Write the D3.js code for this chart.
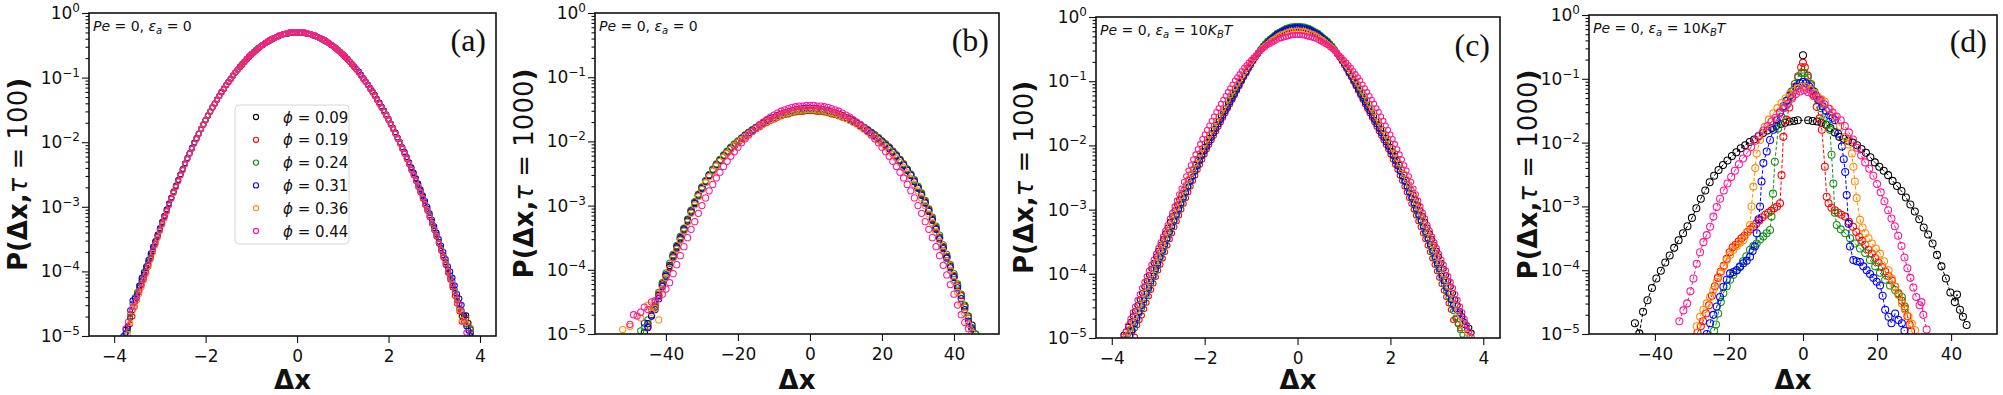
<!DOCTYPE html>
<html>
<head>
<meta charset="utf-8">
<script src="https://cdn.jsdelivr.net/npm/d3@7"></script>
<style>
  body { margin: 0; background: #fff; }
  text { font-family: "DejaVu Sans", sans-serif; fill: #111; }
</style>
</head>
<body>
<div id="chart"></div>
<script>
// ---------------- Data (all probabilities stored as log10 P) ----------------
const phiLabels = ['0.09', '0.19', '0.24', '0.31', '0.36', '0.44']
const seriesColors = ['#000000', '#ff0000', '#109010', '#0000ff', '#ff8c00', '#ff1493']

const xTicksTau100 = [-4, -2, 0, 2, 4]
const xTicksTau1000 = [-40, -20, 0, 20, 40]
const yTicks = [1e-5, 1e-4, 1e-3, 1e-2, 1e-1, 1]

// bin centres, tau = 100 (panels a and c)
const binsTau100 = [
  -3.80, -3.75, -3.70, -3.65, -3.60, -3.55, -3.50, -3.45, -3.40, -3.35,
  -3.30, -3.25, -3.20, -3.15, -3.10, -3.05, -3.00, -2.95, -2.90, -2.85,
  -2.80, -2.75, -2.70, -2.65, -2.60, -2.55, -2.50, -2.45, -2.40, -2.35,
  -2.30, -2.25, -2.20, -2.15, -2.10, -2.05, -2.00, -1.95, -1.90, -1.85,
  -1.80, -1.75, -1.70, -1.65, -1.60, -1.55, -1.50, -1.45, -1.40, -1.35,
  -1.30, -1.25, -1.20, -1.15, -1.10, -1.05, -1.00, -0.95, -0.90, -0.85,
  -0.80, -0.75, -0.70, -0.65, -0.60, -0.55, -0.50, -0.45, -0.40, -0.35,
  -0.30, -0.25, -0.20, -0.15, -0.10, -0.05, 0, 0.05, 0.10, 0.15,
  0.20, 0.25, 0.30, 0.35, 0.40, 0.45, 0.50, 0.55, 0.60, 0.65,
  0.70, 0.75, 0.80, 0.85, 0.90, 0.95, 1.00, 1.05, 1.10, 1.15,
  1.20, 1.25, 1.30, 1.35, 1.40, 1.45, 1.50, 1.55, 1.60, 1.65,
  1.70, 1.75, 1.80, 1.85, 1.90, 1.95, 2.00, 2.05, 2.10, 2.15,
  2.20, 2.25, 2.30, 2.35, 2.40, 2.45, 2.50, 2.55, 2.60, 2.65,
  2.70, 2.75, 2.80, 2.85, 2.90, 2.95, 3.00, 3.05, 3.10, 3.15,
  3.20, 3.25, 3.30, 3.35, 3.40, 3.45, 3.50, 3.55, 3.60, 3.65,
  3.70, 3.75, 3.80]

// bin centres, tau = 1000 (panel b)
const binsTau1000 = [
  -52, -51, -50, -49, -48, -47, -46, -45, -44, -43,
  -42, -41, -40, -39, -38, -37, -36, -35, -34, -33,
  -32, -31, -30, -29, -28, -27, -26, -25, -24, -23,
  -22, -21, -20, -19, -18, -17, -16, -15, -14, -13,
  -12, -11, -10, -9, -8, -7, -6, -5, -4, -3,
  -2, -1, 0, 1, 2, 3, 4, 5, 6, 7,
  8, 9, 10, 11, 12, 13, 14, 15, 16, 17,
  18, 19, 20, 21, 22, 23, 24, 25, 26, 27,
  28, 29, 30, 31, 32, 33, 34, 35, 36, 37,
  38, 39, 40, 41, 42, 43, 44, 45, 46]

// panel (a): Pe = 0, eps = 0, tau = 100
const aBlack = [
  null, -4.90, -4.85, -4.72, -4.60, -4.48, -4.35, -4.25, -4.15, -4.05,
  -3.96, -3.86, -3.76, -3.65, -3.55, -3.45, -3.35, -3.25, -3.15, -3.05,
  -2.96, -2.86, -2.77, -2.68, -2.59, -2.50, -2.42, -2.33, -2.25, -2.17,
  -2.09, -2.01, -1.94, -1.87, -1.80, -1.73, -1.66, -1.59, -1.53, -1.46,
  -1.40, -1.34, -1.28, -1.22, -1.17, -1.12, -1.07, -1.02, -0.97, -0.92,
  -0.88, -0.84, -0.80, -0.76, -0.72, -0.68, -0.64, -0.61, -0.58, -0.55,
  -0.52, -0.50, -0.47, -0.45, -0.43, -0.41, -0.39, -0.37, -0.36, -0.34,
  -0.33, -0.32, -0.32, -0.31, -0.31, -0.30, -0.30, -0.30, -0.31, -0.31,
  -0.32, -0.32, -0.33, -0.35, -0.36, -0.37, -0.39, -0.41, -0.43, -0.45,
  -0.47, -0.50, -0.52, -0.55, -0.58, -0.61, -0.64, -0.68, -0.71, -0.75,
  -0.79, -0.83, -0.87, -0.91, -0.96, -1.01, -1.06, -1.11, -1.16, -1.21,
  -1.27, -1.33, -1.39, -1.45, -1.51, -1.57, -1.64, -1.71, -1.78, -1.85,
  -1.93, -2.00, -2.08, -2.16, -2.24, -2.32, -2.40, -2.48, -2.57, -2.66,
  -2.75, -2.84, -2.94, -3.03, -3.13, -3.23, -3.33, -3.43, -3.54, -3.64,
  -3.75, -3.86, -3.97, -4.10, -4.22, -4.33, -4.45, -4.58, -4.70, -4.69,
  -4.68, -4.80, -4.95]
const aRed = [
  null, null, null, -4.82, -4.70, -4.55, -4.42, -4.32, -4.22, -4.12,
  -4.02, -3.91, -3.80, -3.69, -3.58, -3.47, -3.37, -3.27, -3.17, -3.07,
  -2.97, -2.87, -2.78, -2.69, -2.60, -2.51, -2.43, -2.34, -2.26, -2.18,
  -2.10, -2.02, -1.95, -1.87, -1.80, -1.73, -1.66, -1.59, -1.53, -1.47,
  -1.41, -1.35, -1.29, -1.23, -1.18, -1.12, -1.07, -1.02, -0.97, -0.92,
  -0.88, -0.84, -0.80, -0.76, -0.72, -0.68, -0.65, -0.61, -0.58, -0.55,
  -0.52, -0.49, -0.47, -0.45, -0.43, -0.41, -0.39, -0.37, -0.36, -0.34,
  -0.33, -0.32, -0.31, -0.30, -0.30, -0.30, -0.30, -0.30, -0.30, -0.30,
  -0.31, -0.32, -0.33, -0.34, -0.36, -0.37, -0.39, -0.41, -0.43, -0.45,
  -0.47, -0.49, -0.52, -0.55, -0.58, -0.61, -0.65, -0.68, -0.72, -0.76,
  -0.80, -0.84, -0.88, -0.92, -0.97, -1.02, -1.07, -1.12, -1.18, -1.23,
  -1.29, -1.35, -1.41, -1.47, -1.53, -1.59, -1.66, -1.73, -1.80, -1.87,
  -1.95, -2.02, -2.10, -2.18, -2.26, -2.34, -2.43, -2.51, -2.60, -2.69,
  -2.78, -2.87, -2.97, -3.06, -3.16, -3.26, -3.36, -3.46, -3.57, -3.68,
  -3.79, -3.90, -4.02, -4.13, -4.25, -4.38, -4.50, -4.62, -4.78, -4.70,
  -4.72, -4.85, -4.90]
const aGreen = [
  null, -4.95, -4.92, -4.70, -4.50, -4.40, -4.32, -4.22, -4.12, -4.03,
  -3.94, -3.84, -3.74, -3.64, -3.54, -3.44, -3.34, -3.24, -3.14, -3.05,
  -2.95, -2.86, -2.76, -2.67, -2.58, -2.50, -2.41, -2.33, -2.25, -2.17,
  -2.09, -2.01, -1.94, -1.86, -1.79, -1.72, -1.65, -1.58, -1.52, -1.46,
  -1.40, -1.34, -1.28, -1.22, -1.17, -1.11, -1.06, -1.01, -0.96, -0.92,
  -0.87, -0.83, -0.79, -0.75, -0.71, -0.67, -0.64, -0.60, -0.57, -0.54,
  -0.52, -0.49, -0.47, -0.45, -0.43, -0.41, -0.39, -0.37, -0.36, -0.34,
  -0.33, -0.32, -0.31, -0.30, -0.30, -0.30, -0.30, -0.30, -0.30, -0.30,
  -0.31, -0.32, -0.33, -0.34, -0.36, -0.37, -0.39, -0.41, -0.43, -0.45,
  -0.47, -0.49, -0.52, -0.54, -0.57, -0.60, -0.64, -0.67, -0.71, -0.75,
  -0.79, -0.83, -0.87, -0.91, -0.96, -1.01, -1.06, -1.11, -1.17, -1.22,
  -1.28, -1.34, -1.40, -1.46, -1.52, -1.58, -1.65, -1.72, -1.79, -1.86,
  -1.94, -2.01, -2.09, -2.17, -2.25, -2.33, -2.41, -2.50, -2.58, -2.67,
  -2.76, -2.86, -2.95, -3.05, -3.14, -3.24, -3.34, -3.44, -3.55, -3.65,
  -3.76, -3.87, -3.98, -4.06, -4.15, -4.28, -4.40, -4.50, -4.60, -4.72,
  -4.82, -4.92, -4.88]
const aBlue = [
  -5.00, -4.96, -4.88, -4.60, -4.45, -4.42, -4.38, -4.22, -4.10, -4.01,
  -3.92, -3.82, -3.72, -3.62, -3.53, -3.43, -3.33, -3.23, -3.14, -3.04,
  -2.95, -2.86, -2.77, -2.68, -2.59, -2.50, -2.42, -2.33, -2.25, -2.17,
  -2.09, -2.01, -1.94, -1.87, -1.80, -1.73, -1.66, -1.59, -1.53, -1.46,
  -1.40, -1.34, -1.28, -1.22, -1.17, -1.12, -1.07, -1.02, -0.97, -0.92,
  -0.88, -0.83, -0.79, -0.75, -0.71, -0.67, -0.64, -0.61, -0.58, -0.55,
  -0.52, -0.49, -0.47, -0.44, -0.42, -0.40, -0.39, -0.37, -0.35, -0.34,
  -0.33, -0.32, -0.31, -0.30, -0.30, -0.30, -0.30, -0.30, -0.30, -0.30,
  -0.31, -0.32, -0.33, -0.34, -0.35, -0.37, -0.39, -0.40, -0.42, -0.44,
  -0.47, -0.49, -0.52, -0.55, -0.58, -0.61, -0.64, -0.67, -0.71, -0.75,
  -0.79, -0.83, -0.87, -0.91, -0.96, -1.01, -1.06, -1.11, -1.16, -1.21,
  -1.27, -1.33, -1.39, -1.45, -1.51, -1.57, -1.64, -1.71, -1.78, -1.85,
  -1.93, -2.00, -2.08, -2.15, -2.23, -2.31, -2.39, -2.47, -2.56, -2.64,
  -2.73, -2.82, -2.91, -3.00, -3.10, -3.20, -3.30, -3.40, -3.50, -3.60,
  -3.70, -3.81, -3.92, -4.00, -4.10, -4.22, -4.35, -4.42, -4.52, -4.68,
  -4.85, -4.92, -5.00]
const aOrange = [
  null, null, -4.97, -4.80, -4.62, -4.54, -4.45, -4.35, -4.25, -4.14,
  -4.04, -3.93, -3.82, -3.71, -3.60, -3.49, -3.38, -3.28, -3.18, -3.08,
  -2.98, -2.88, -2.79, -2.70, -2.61, -2.52, -2.43, -2.34, -2.26, -2.18,
  -2.10, -2.02, -1.95, -1.87, -1.80, -1.73, -1.66, -1.59, -1.53, -1.46,
  -1.40, -1.34, -1.28, -1.22, -1.17, -1.12, -1.07, -1.02, -0.97, -0.92,
  -0.88, -0.83, -0.79, -0.75, -0.71, -0.67, -0.64, -0.61, -0.58, -0.55,
  -0.52, -0.49, -0.47, -0.44, -0.42, -0.40, -0.39, -0.37, -0.35, -0.34,
  -0.33, -0.32, -0.31, -0.30, -0.30, -0.30, -0.30, -0.30, -0.30, -0.30,
  -0.31, -0.32, -0.33, -0.34, -0.35, -0.37, -0.39, -0.40, -0.42, -0.44,
  -0.47, -0.49, -0.52, -0.55, -0.58, -0.61, -0.64, -0.67, -0.71, -0.75,
  -0.79, -0.83, -0.88, -0.92, -0.97, -1.02, -1.07, -1.12, -1.17, -1.22,
  -1.28, -1.34, -1.40, -1.46, -1.52, -1.58, -1.65, -1.72, -1.79, -1.86,
  -1.94, -2.01, -2.09, -2.17, -2.25, -2.33, -2.42, -2.50, -2.59, -2.68,
  -2.77, -2.86, -2.96, -3.05, -3.15, -3.25, -3.35, -3.45, -3.56, -3.66,
  -3.77, -3.88, -3.99, -4.10, -4.20, -4.32, -4.44, -4.60, -4.75, -4.78,
  -4.80, null, null]
const aPink = [
  null, -4.88, -4.78, -4.66, -4.55, -4.47, -4.40, -4.30, -4.20, -4.10,
  -4.00, -3.89, -3.78, -3.67, -3.57, -3.46, -3.36, -3.26, -3.16, -3.06,
  -2.97, -2.87, -2.78, -2.69, -2.60, -2.51, -2.43, -2.34, -2.26, -2.18,
  -2.10, -2.02, -1.95, -1.87, -1.80, -1.73, -1.66, -1.59, -1.53, -1.46,
  -1.40, -1.34, -1.28, -1.22, -1.17, -1.12, -1.07, -1.02, -0.97, -0.92,
  -0.88, -0.83, -0.79, -0.75, -0.71, -0.67, -0.64, -0.61, -0.58, -0.55,
  -0.52, -0.49, -0.47, -0.44, -0.42, -0.40, -0.39, -0.37, -0.35, -0.34,
  -0.33, -0.32, -0.31, -0.30, -0.30, -0.30, -0.30, -0.30, -0.30, -0.30,
  -0.31, -0.32, -0.33, -0.34, -0.35, -0.37, -0.39, -0.40, -0.42, -0.44,
  -0.47, -0.49, -0.52, -0.55, -0.58, -0.61, -0.64, -0.67, -0.71, -0.75,
  -0.79, -0.83, -0.88, -0.92, -0.97, -1.02, -1.07, -1.12, -1.17, -1.22,
  -1.28, -1.34, -1.40, -1.46, -1.53, -1.59, -1.66, -1.73, -1.80, -1.87,
  -1.95, -2.02, -2.10, -2.18, -2.26, -2.34, -2.43, -2.51, -2.60, -2.69,
  -2.78, -2.87, -2.97, -3.06, -3.16, -3.26, -3.36, -3.46, -3.57, -3.67,
  -3.78, -3.89, -4.00, -4.10, -4.20, -4.31, -4.42, -4.52, -4.62, -4.78,
  -4.95, null, null]

// panel (b): Pe = 0, eps = 0, tau = 1000
const bBlack = [
  null, null, null, null, null, null, -4.98, -4.84, -4.70, -4.58,
  -4.40, -4.22, -4.08, -3.93, -3.78, -3.64, -3.50, -3.36, -3.22, -3.08,
  -2.95, -2.83, -2.72, -2.62, -2.52, -2.44, -2.36, -2.29, -2.22, -2.16,
  -2.10, -2.05, -2.00, -1.95, -1.91, -1.86, -1.82, -1.78, -1.75, -1.71,
  -1.68, -1.65, -1.63, -1.60, -1.58, -1.56, -1.55, -1.53, -1.52, -1.51,
  -1.51, -1.50, -1.50, -1.50, -1.51, -1.51, -1.52, -1.53, -1.55, -1.56,
  -1.58, -1.60, -1.63, -1.65, -1.68, -1.71, -1.75, -1.78, -1.82, -1.86,
  -1.91, -1.95, -2.00, -2.05, -2.10, -2.16, -2.22, -2.29, -2.36, -2.44,
  -2.52, -2.62, -2.72, -2.83, -2.95, -3.08, -3.22, -3.36, -3.50, -3.65,
  -3.80, -3.95, -4.10, -4.25, -4.40, -4.56, -4.72, -4.86, -5.00]
const bRed = [
  null, null, null, null, null, null, null, -4.88, -4.72, -4.55,
  -4.38, -4.24, -4.10, -3.95, -3.80, -3.66, -3.52, -3.38, -3.24, -3.10,
  -2.97, -2.85, -2.74, -2.64, -2.54, -2.46, -2.38, -2.31, -2.24, -2.18,
  -2.12, -2.07, -2.02, -1.97, -1.93, -1.88, -1.84, -1.80, -1.77, -1.73,
  -1.70, -1.67, -1.65, -1.62, -1.60, -1.58, -1.57, -1.55, -1.54, -1.53,
  -1.53, -1.52, -1.52, -1.52, -1.53, -1.53, -1.54, -1.55, -1.57, -1.58,
  -1.60, -1.62, -1.64, -1.66, -1.69, -1.72, -1.75, -1.79, -1.82, -1.86,
  -1.90, -1.94, -1.99, -2.04, -2.09, -2.15, -2.21, -2.28, -2.35, -2.43,
  -2.51, -2.60, -2.70, -2.81, -2.93, -3.06, -3.20, -3.34, -3.49, -3.64,
  -3.79, -3.94, -4.09, -4.24, -4.40, -4.58, -4.75, -4.92, null]
const bGreen = [
  null, null, null, null, null, -4.95, -4.90, -4.78, -4.62, -4.50,
  -4.35, -4.20, -4.05, -3.90, -3.76, -3.62, -3.48, -3.35, -3.21, -3.07,
  -2.94, -2.82, -2.71, -2.61, -2.52, -2.43, -2.35, -2.28, -2.21, -2.15,
  -2.09, -2.04, -1.99, -1.95, -1.90, -1.86, -1.82, -1.78, -1.75, -1.72,
  -1.69, -1.66, -1.63, -1.61, -1.59, -1.57, -1.56, -1.54, -1.53, -1.52,
  -1.52, -1.51, -1.51, -1.51, -1.52, -1.52, -1.53, -1.54, -1.55, -1.57,
  -1.59, -1.61, -1.63, -1.66, -1.68, -1.71, -1.74, -1.78, -1.82, -1.86,
  -1.90, -1.94, -1.99, -2.04, -2.09, -2.15, -2.21, -2.28, -2.35, -2.43,
  -2.51, -2.60, -2.70, -2.80, -2.92, -3.05, -3.18, -3.32, -3.46, -3.61,
  -3.76, -3.92, -4.06, -4.22, -4.38, -4.55, -4.72, -4.90, -5.00]
const bBlue = [
  null, null, null, null, null, null, -4.83, -4.90, -4.72, -4.62,
  -4.45, -4.26, -4.10, -3.96, -3.80, -3.66, -3.52, -3.38, -3.24, -3.10,
  -2.97, -2.85, -2.73, -2.63, -2.53, -2.45, -2.37, -2.30, -2.23, -2.17,
  -2.11, -2.06, -2.01, -1.96, -1.91, -1.87, -1.83, -1.79, -1.75, -1.72,
  -1.68, -1.65, -1.63, -1.60, -1.58, -1.56, -1.54, -1.53, -1.51, -1.50,
  -1.49, -1.48, -1.48, -1.49, -1.49, -1.50, -1.51, -1.52, -1.54, -1.56,
  -1.58, -1.61, -1.63, -1.66, -1.69, -1.72, -1.76, -1.79, -1.83, -1.87,
  -1.92, -1.96, -2.01, -2.06, -2.11, -2.17, -2.23, -2.30, -2.37, -2.45,
  -2.53, -2.63, -2.73, -2.84, -2.96, -3.09, -3.23, -3.37, -3.52, -3.67,
  -3.82, -3.97, -4.12, -4.28, -4.45, -4.62, -4.80, -4.92, null]
const bOrange = [
  -4.93, null, -4.88, null, null, -4.75, null, -4.55, -4.66, -4.60,
  -4.78, -4.30, -4.12, -3.98, -3.82, -3.68, -3.54, -3.40, -3.26, -3.12,
  -2.99, -2.86, -2.75, -2.64, -2.55, -2.46, -2.38, -2.31, -2.24, -2.18,
  -2.12, -2.06, -2.01, -1.97, -1.92, -1.88, -1.84, -1.80, -1.76, -1.73,
  -1.69, -1.66, -1.64, -1.61, -1.59, -1.57, -1.55, -1.54, -1.52, -1.51,
  -1.51, -1.50, -1.50, -1.50, -1.51, -1.51, -1.52, -1.54, -1.55, -1.57,
  -1.59, -1.61, -1.64, -1.67, -1.70, -1.73, -1.77, -1.81, -1.85, -1.89,
  -1.93, -1.98, -2.03, -2.08, -2.14, -2.20, -2.26, -2.33, -2.41, -2.49,
  -2.58, -2.67, -2.77, -2.88, -3.00, -3.13, -3.27, -3.41, -3.56, -3.71,
  -3.86, -4.01, -4.18, -4.35, -4.52, -4.68, -4.85, -4.98, null]
const bPink = [
  null, null, -4.85, -4.70, -4.72, -4.66, -4.58, -4.62, -4.50, -4.48,
  -4.42, -4.38, -4.30, -4.20, -4.06, -3.92, -3.78, -3.64, -3.50, -3.37,
  -3.25, -3.12, -3.00, -2.88, -2.77, -2.67, -2.57, -2.48, -2.39, -2.31,
  -2.23, -2.16, -2.09, -2.02, -1.96, -1.90, -1.84, -1.79, -1.74, -1.70,
  -1.66, -1.62, -1.59, -1.56, -1.53, -1.51, -1.49, -1.47, -1.46, -1.45,
  -1.45, -1.44, -1.44, -1.44, -1.45, -1.45, -1.46, -1.47, -1.49, -1.51,
  -1.53, -1.56, -1.59, -1.62, -1.66, -1.70, -1.74, -1.79, -1.84, -1.90,
  -1.96, -2.02, -2.09, -2.16, -2.23, -2.31, -2.39, -2.48, -2.57, -2.67,
  -2.77, -2.88, -3.00, -3.12, -3.25, -3.37, -3.50, -3.64, -3.78, -3.93,
  -4.08, -4.23, -4.38, -4.55, -4.70, -4.82, -4.92, null, null]

// panel (c): Pe = 0, eps = 10 kT, tau = 100
const cBlack = [
  null, -4.95, -4.90, -4.82, -4.75, -4.66, -4.58, -4.49, -4.40, -4.30,
  -4.20, -4.11, -4.02, -3.92, -3.83, -3.73, -3.64, -3.55, -3.46, -3.37,
  -3.28, -3.19, -3.10, -3.01, -2.93, -2.85, -2.77, -2.69, -2.61, -2.53,
  -2.45, -2.37, -2.30, -2.23, -2.16, -2.09, -2.02, -1.95, -1.88, -1.81,
  -1.75, -1.68, -1.62, -1.55, -1.49, -1.42, -1.36, -1.29, -1.23, -1.16,
  -1.10, -1.03, -0.97, -0.91, -0.85, -0.78, -0.72, -0.66, -0.61, -0.56,
  -0.51, -0.46, -0.42, -0.38, -0.35, -0.32, -0.29, -0.26, -0.24, -0.22,
  -0.20, -0.18, -0.17, -0.16, -0.155, -0.15, -0.15, -0.15, -0.155, -0.16,
  -0.17, -0.18, -0.20, -0.22, -0.24, -0.26, -0.29, -0.32, -0.35, -0.38,
  -0.42, -0.46, -0.51, -0.56, -0.61, -0.66, -0.72, -0.78, -0.85, -0.91,
  -0.97, -1.03, -1.10, -1.16, -1.23, -1.29, -1.36, -1.42, -1.49, -1.55,
  -1.62, -1.68, -1.75, -1.81, -1.88, -1.95, -2.02, -2.09, -2.16, -2.23,
  -2.30, -2.37, -2.45, -2.53, -2.61, -2.69, -2.77, -2.85, -2.93, -3.01,
  -3.10, -3.19, -3.28, -3.37, -3.46, -3.55, -3.64, -3.73, -3.83, -3.92,
  -4.02, -4.11, -4.20, -4.30, -4.40, -4.49, -4.58, -4.66, -4.75, -4.80,
  -4.84, -4.92, null]
const cRed = [
  null, null, null, null, null, -4.90, -4.98, -4.80, -4.72, -4.65,
  -4.55, -4.45, -4.35, -4.25, -4.15, -4.05, -3.95, -3.86, -3.76, -3.66,
  -3.56, -3.46, -3.37, -3.27, -3.18, -3.09, -3.00, -2.91, -2.82, -2.73,
  -2.64, -2.55, -2.47, -2.38, -2.30, -2.22, -2.14, -2.06, -1.99, -1.92,
  -1.85, -1.78, -1.71, -1.64, -1.57, -1.50, -1.43, -1.36, -1.29, -1.22,
  -1.15, -1.08, -1.01, -0.94, -0.88, -0.81, -0.75, -0.69, -0.63, -0.58,
  -0.53, -0.48, -0.44, -0.40, -0.37, -0.34, -0.31, -0.28, -0.26, -0.24,
  -0.22, -0.20, -0.19, -0.18, -0.17, -0.17, -0.17, -0.17, -0.17, -0.18,
  -0.19, -0.20, -0.22, -0.24, -0.26, -0.28, -0.31, -0.34, -0.37, -0.40,
  -0.44, -0.48, -0.53, -0.58, -0.63, -0.69, -0.75, -0.81, -0.88, -0.94,
  -1.01, -1.08, -1.15, -1.22, -1.29, -1.36, -1.43, -1.50, -1.57, -1.64,
  -1.71, -1.78, -1.85, -1.92, -1.99, -2.06, -2.14, -2.22, -2.30, -2.38,
  -2.47, -2.55, -2.64, -2.73, -2.82, -2.91, -3.00, -3.09, -3.18, -3.27,
  -3.37, -3.46, -3.56, -3.66, -3.76, -3.86, -3.96, -4.06, -4.16, -4.26,
  -4.36, -4.46, -4.56, -4.72, -4.70, -4.78, -4.85, null, null, null,
  null, null, null]
const cGreen = [
  null, null, null, -4.95, -4.90, -4.80, -4.85, -4.72, -4.62, -4.54,
  -4.45, -4.35, -4.25, -4.15, -4.06, -3.96, -3.87, -3.77, -3.67, -3.57,
  -3.47, -3.37, -3.28, -3.19, -3.10, -3.01, -2.92, -2.83, -2.74, -2.65,
  -2.57, -2.49, -2.41, -2.33, -2.25, -2.17, -2.10, -2.02, -1.95, -1.88,
  -1.81, -1.74, -1.67, -1.60, -1.53, -1.46, -1.39, -1.32, -1.25, -1.18,
  -1.11, -1.04, -0.98, -0.91, -0.85, -0.78, -0.72, -0.66, -0.60, -0.55,
  -0.50, -0.45, -0.41, -0.37, -0.34, -0.31, -0.28, -0.25, -0.23, -0.21,
  -0.19, -0.17, -0.16, -0.15, -0.145, -0.14, -0.14, -0.14, -0.145, -0.15,
  -0.16, -0.17, -0.19, -0.21, -0.23, -0.25, -0.28, -0.31, -0.34, -0.37,
  -0.41, -0.45, -0.50, -0.55, -0.60, -0.66, -0.72, -0.78, -0.85, -0.91,
  -0.98, -1.04, -1.11, -1.18, -1.25, -1.32, -1.39, -1.46, -1.53, -1.60,
  -1.67, -1.74, -1.81, -1.88, -1.95, -2.02, -2.10, -2.17, -2.25, -2.33,
  -2.41, -2.49, -2.57, -2.65, -2.74, -2.83, -2.92, -3.01, -3.10, -3.19,
  -3.28, -3.37, -3.47, -3.57, -3.67, -3.77, -3.87, -3.97, -4.07, -4.17,
  -4.27, -4.37, -4.47, -4.58, -4.68, -4.78, -4.88, -4.95, null, null,
  null, null, null]
const cBlue = [
  null, null, null, null, -4.97, -4.88, -4.78, -4.69, -4.60, -4.50,
  -4.41, -4.31, -4.22, -4.12, -4.03, -3.93, -3.84, -3.74, -3.64, -3.54,
  -3.45, -3.35, -3.26, -3.17, -3.08, -2.99, -2.90, -2.81, -2.73, -2.64,
  -2.56, -2.48, -2.40, -2.32, -2.24, -2.16, -2.09, -2.02, -1.95, -1.88,
  -1.81, -1.74, -1.67, -1.60, -1.54, -1.47, -1.40, -1.33, -1.27, -1.20,
  -1.13, -1.06, -0.99, -0.92, -0.86, -0.79, -0.73, -0.67, -0.62, -0.57,
  -0.52, -0.48, -0.44, -0.40, -0.36, -0.33, -0.30, -0.27, -0.25, -0.23,
  -0.21, -0.19, -0.18, -0.17, -0.165, -0.16, -0.16, -0.16, -0.165, -0.17,
  -0.18, -0.19, -0.21, -0.23, -0.25, -0.27, -0.30, -0.33, -0.36, -0.40,
  -0.44, -0.48, -0.52, -0.57, -0.62, -0.67, -0.73, -0.79, -0.86, -0.92,
  -0.99, -1.06, -1.13, -1.20, -1.27, -1.33, -1.40, -1.47, -1.54, -1.60,
  -1.67, -1.74, -1.81, -1.88, -1.95, -2.02, -2.09, -2.16, -2.24, -2.32,
  -2.40, -2.48, -2.56, -2.64, -2.73, -2.81, -2.90, -2.99, -3.08, -3.17,
  -3.26, -3.35, -3.45, -3.54, -3.64, -3.74, -3.84, -3.93, -4.03, -4.12,
  -4.22, -4.31, -4.41, -4.48, -4.55, -4.58, -4.62, -4.70, -4.80, -4.88,
  -4.98, null, null]
const cOrange = [
  null, null, -4.98, -4.92, -4.85, -4.75, -4.66, -4.57, -4.48, -4.39,
  -4.30, -4.20, -4.10, -4.01, -3.92, -3.82, -3.73, -3.63, -3.54, -3.44,
  -3.35, -3.25, -3.16, -3.06, -2.97, -2.88, -2.79, -2.70, -2.61, -2.52,
  -2.44, -2.36, -2.28, -2.20, -2.12, -2.04, -1.97, -1.90, -1.83, -1.76,
  -1.69, -1.62, -1.55, -1.48, -1.42, -1.35, -1.29, -1.22, -1.16, -1.10,
  -1.04, -0.98, -0.92, -0.86, -0.80, -0.75, -0.70, -0.65, -0.61, -0.56,
  -0.52, -0.48, -0.45, -0.42, -0.39, -0.36, -0.34, -0.31, -0.29, -0.27,
  -0.26, -0.24, -0.23, -0.22, -0.215, -0.21, -0.21, -0.21, -0.215, -0.22,
  -0.23, -0.24, -0.26, -0.27, -0.29, -0.31, -0.34, -0.36, -0.39, -0.42,
  -0.45, -0.48, -0.52, -0.56, -0.61, -0.65, -0.70, -0.75, -0.80, -0.86,
  -0.92, -0.98, -1.04, -1.10, -1.16, -1.22, -1.29, -1.35, -1.42, -1.48,
  -1.55, -1.62, -1.69, -1.76, -1.83, -1.90, -1.97, -2.04, -2.12, -2.20,
  -2.28, -2.36, -2.44, -2.52, -2.61, -2.70, -2.79, -2.88, -2.97, -3.06,
  -3.16, -3.25, -3.35, -3.44, -3.54, -3.63, -3.73, -3.82, -3.92, -4.01,
  -4.10, -4.20, -4.30, -4.39, -4.48, -4.57, -4.66, -4.75, -4.85, -4.92,
  -4.98, null, null]
const cPink = [
  null, -4.98, -4.90, -4.80, -4.70, -4.60, -4.51, -4.41, -4.32, -4.22,
  -4.13, -4.04, -3.95, -3.86, -3.78, -3.69, -3.60, -3.51, -3.42, -3.33,
  -3.24, -3.14, -3.05, -2.95, -2.86, -2.76, -2.67, -2.57, -2.48, -2.39,
  -2.31, -2.22, -2.14, -2.06, -1.98, -1.90, -1.83, -1.76, -1.69, -1.62,
  -1.55, -1.48, -1.42, -1.35, -1.29, -1.23, -1.17, -1.11, -1.05, -0.99,
  -0.94, -0.89, -0.84, -0.79, -0.75, -0.71, -0.67, -0.63, -0.60, -0.56,
  -0.53, -0.50, -0.47, -0.44, -0.42, -0.40, -0.38, -0.36, -0.34, -0.33,
  -0.32, -0.31, -0.30, -0.29, -0.285, -0.28, -0.28, -0.28, -0.285, -0.29,
  -0.30, -0.31, -0.32, -0.33, -0.34, -0.36, -0.38, -0.40, -0.42, -0.44,
  -0.47, -0.50, -0.53, -0.56, -0.60, -0.63, -0.67, -0.71, -0.75, -0.79,
  -0.84, -0.89, -0.94, -0.99, -1.05, -1.11, -1.17, -1.23, -1.29, -1.35,
  -1.42, -1.48, -1.55, -1.62, -1.69, -1.76, -1.83, -1.90, -1.98, -2.06,
  -2.14, -2.22, -2.31, -2.39, -2.48, -2.57, -2.67, -2.76, -2.86, -2.95,
  -3.05, -3.14, -3.24, -3.33, -3.42, -3.51, -3.60, -3.69, -3.78, -3.86,
  -3.95, -4.04, -4.13, -4.22, -4.32, -4.41, -4.51, -4.60, -4.70, -4.80,
  -4.90, -4.98, null]

// panel (d): Pe = 0, eps = 10 kT, tau = 1000  ([dx, log10 P] pairs)
const dBlack = [
  [-45.4, -4.83], [-44.2, -4.99], [-43.2, -4.65], [-42, -4.47], [-40.8, -4.28], [-39.6, -4.13],
  [-38.4, -4.01], [-37.2, -3.88], [-36, -3.77], [-34.8, -3.65], [-33.6, -3.53], [-32.4, -3.42],
  [-31.2, -3.31], [-30, -3.18], [-28.8, -3.03], [-27.6, -2.88], [-26.4, -2.75], [-25.2, -2.62],
  [-24, -2.52], [-22.8, -2.43], [-21.6, -2.35], [-20.4, -2.28], [-19.2, -2.21], [-18, -2.15],
  [-16.8, -2.09], [-15.6, -2.04], [-14.4, -1.99], [-13.2, -1.95], [-12, -1.90], [-10.8, -1.85],
  [-9.6, -1.81], [-8.4, -1.77], [-7.2, -1.74], [-6, -1.71], [-4.8, -1.69], [-3.6, -1.67],
  [-2.4, -1.66], [-1.4, -1.65], [1.4, -1.65], [2.6, -1.66], [3.8, -1.67], [5, -1.69],
  [6.2, -1.72], [7.4, -1.77], [8.6, -1.84], [9.8, -1.91], [11, -1.94], [12.2, -1.97],
  [13.4, -2.00], [14.6, -2.04], [15.8, -2.10], [17, -2.16], [18.2, -2.23], [19.4, -2.31],
  [20.6, -2.38], [21.8, -2.44], [23, -2.51], [24.2, -2.60], [25.4, -2.68], [26.6, -2.76],
  [27.8, -2.86], [29, -2.97], [30.2, -3.08], [31.4, -3.20], [32.6, -3.33], [33.8, -3.44],
  [35, -3.58], [36.2, -3.76], [37.4, -3.94], [38.6, -4.13], [39.8, -4.35], [41, -4.50],
  [41.6, -4.38], [42.4, -4.62], [43.2, -4.73], [44.2, -4.86]]
const dBlackPeak = [[0, -0.63]]
const dRed = [
  [-28.5, -4.98], [-27.6, -4.88], [-27, -4.80], [-26.2, -4.68], [-25.4, -4.55], [-24.6, -4.40],
  [-23.8, -4.25], [-23, -4.12], [-22.2, -4.02], [-21.4, -3.93], [-20.6, -3.82], [-19.8, -3.72],
  [-19, -3.64], [-18.2, -3.60], [-17.4, -3.55], [-16.6, -3.50], [-15.8, -3.46], [-15, -3.40],
  [-14.2, -3.36], [-13.4, -3.32], [-12.6, -3.27], [-11.8, -3.22], [-11, -3.17], [-10.2, -3.13],
  [-9.4, -3.10], [-8.6, -3.07], [-7.8, -3.03], [-7, -3.00], [-6.2, -2.95], [-5.8, -2.51],
  [-5.3, -1.91], [-4.5, -1.64], [-3.7, -1.45], [-2.9, -1.28], [-2.1, -1.12], [-1.3, -0.96],
  [-0.5, -0.82], [0, -0.75], [0.5, -0.82], [1.3, -0.95], [2.1, -1.10], [2.9, -1.27],
  [3.7, -1.44], [4.5, -1.62], [5.1, -1.80], [5.9, -2.38], [6.4, -2.85], [6.9, -2.95],
  [7.7, -3.02], [8.6, -3.06], [9.5, -3.10], [10.4, -3.13], [11.4, -3.16], [12.4, -3.24],
  [13.5, -3.32], [14.4, -3.40], [15.2, -3.48], [16, -3.54], [16.8, -3.60], [17.7, -3.68],
  [18.6, -3.74], [19.5, -3.81], [20.4, -3.88], [21.3, -3.95], [22.2, -4.02], [23.1, -4.09],
  [24, -4.16], [24.9, -4.26], [25.8, -4.36], [26.7, -4.48], [27.5, -4.60], [28.2, -4.72],
  [28.8, -4.85], [29.2, -4.96]]
const dGreen = [
  [-24, -4.95], [-23.5, -4.85], [-22.9, -4.68], [-22.2, -4.50], [-21.5, -4.36], [-20.6, -4.25],
  [-19.7, -4.15], [-18.8, -4.07], [-17.9, -4.00], [-17.1, -3.94], [-16.2, -3.86], [-15.3, -3.78],
  [-14.3, -3.68], [-13.4, -3.62], [-12.5, -3.58], [-11.6, -3.52], [-10.7, -3.47], [-9.8, -3.42],
  [-8.9, -3.37], [-8.5, -3.16], [-8.1, -2.80], [-7.6, -2.30], [-6.7, -1.78], [-5.8, -1.60],
  [-4.9, -1.45], [-4, -1.33], [-3.1, -1.20], [-2.2, -1.08], [-1.3, -0.98], [-0.4, -0.91],
  [0.4, -0.91], [1.3, -0.98], [2.2, -1.08], [3.1, -1.20], [4, -1.33], [4.9, -1.46],
  [5.8, -1.60], [6.6, -1.72], [7.3, -1.80], [7.7, -2.19], [8.2, -2.64], [8.6, -3.10],
  [9.1, -3.29], [10.2, -3.36], [11.4, -3.42], [12.7, -3.50], [14, -3.58], [15.4, -3.66],
  [16.8, -3.73], [18.1, -3.84], [19.5, -3.94], [20.8, -4.04], [22.2, -4.15], [23.5, -4.24],
  [24.9, -4.31], [25.8, -4.38], [26.7, -4.42], [27.5, -4.57]]
const dBlue = [
  [-26, -5.00], [-25.1, -4.83], [-24.2, -4.70], [-23.3, -4.57], [-22.4, -4.42], [-21.5, -4.26],
  [-20.6, -4.15], [-19.7, -4.05], [-18.8, -4.03], [-17.9, -4.00], [-17, -3.95], [-16.1, -3.89],
  [-15.2, -3.85], [-14.3, -3.79], [-13.6, -3.70], [-13, -3.63], [-12.5, -3.42], [-12, -3.20],
  [-11.6, -3.00], [-11.2, -2.61], [-10.7, -2.32], [-9.8, -2.14], [-8.9, -1.96], [-8, -1.80],
  [-7.1, -1.65], [-6.2, -1.53], [-5.3, -1.43], [-4.4, -1.34], [-3.5, -1.26], [-2.6, -1.19],
  [-1.7, -1.12], [-0.8, -1.07], [0, -1.05], [0.8, -1.07], [1.7, -1.12], [2.6, -1.19],
  [3.5, -1.26], [4.4, -1.34], [5.3, -1.43], [6.2, -1.50], [7.1, -1.57], [8, -1.61],
  [8.6, -1.65], [9.5, -1.86], [10.5, -2.06], [11, -2.26], [11.4, -2.46], [11.8, -2.82],
  [12.3, -3.27], [12.7, -3.63], [13.6, -3.84], [14.5, -3.86], [15.4, -3.87], [16.3, -3.94],
  [17.2, -4.00], [18.1, -4.06], [19, -4.12], [19.9, -4.18], [20.8, -4.24], [21.5, -4.40],
  [22.2, -4.62], [23.1, -4.73], [23.9, -4.83], [24.9, -4.68], [25.8, -4.78], [26.7, -4.83],
  [27.4, -4.95]]
const dOrange = [
  [-28.7, -4.88], [-27.8, -4.73], [-26.9, -4.62], [-26, -4.52], [-25.1, -4.42], [-24.2, -4.31],
  [-23.3, -4.18], [-22.4, -4.05], [-21.5, -3.95], [-20.6, -3.84], [-19.7, -3.76], [-18.8, -3.68],
  [-17.9, -3.62], [-17, -3.57], [-16.1, -3.53], [-15.2, -3.41], [-14.3, -3.29], [-13.9, -3.00],
  [-13.4, -2.69], [-12.9, -2.40], [-12.5, -2.17], [-11.6, -1.96], [-10.3, -1.75], [-9.2, -1.64],
  [-8, -1.54], [-6.9, -1.46], [-5.8, -1.38], [-4.7, -1.31], [-3.6, -1.24], [-2.5, -1.19],
  [-1.4, -1.15], [-0.3, -1.12], [0.8, -1.13], [1.9, -1.17], [3, -1.22], [4, -1.28],
  [5, -1.32], [5.9, -1.36], [7.2, -1.47], [8.6, -1.59], [10, -1.74], [11.4, -1.91],
  [12.3, -2.03], [13.2, -2.17], [13.6, -2.38], [14, -2.61], [14.5, -2.87], [15.4, -3.21],
  [16.1, -3.33], [16.8, -3.42], [17.7, -3.50], [18.6, -3.58], [19.7, -3.66], [20.8, -3.74],
  [21.9, -3.86], [23.1, -4.00], [24, -4.13], [24.9, -4.26], [25.8, -4.39], [26.7, -4.52],
  [27.6, -4.62], [28.5, -4.73], [29.4, -4.84], [30.3, -4.94]]
const dPink = [
  [-33.4, -4.80], [-32.3, -4.63], [-31.3, -4.52], [-30.4, -4.33], [-29.6, -4.13], [-28.7, -3.90],
  [-27.8, -3.72], [-26.9, -3.56], [-26, -3.45], [-25.1, -3.32], [-24.2, -3.16], [-23.3, -3.01],
  [-22.4, -2.88], [-21.4, -2.75], [-20.4, -2.64], [-19.4, -2.54], [-18.4, -2.44], [-17.3, -2.34],
  [-16.2, -2.25], [-15.1, -2.16], [-14, -2.07], [-12.9, -1.97], [-11.8, -1.89], [-10.7, -1.81],
  [-9.6, -1.74], [-8.5, -1.67], [-7.4, -1.61], [-6.3, -1.53], [-5.2, -1.46], [-4.1, -1.39],
  [-3, -1.31], [-1.9, -1.24], [-0.8, -1.20], [0.3, -1.18], [1.4, -1.21], [2.5, -1.24],
  [3.6, -1.28], [4.7, -1.33], [5.8, -1.40], [6.9, -1.47], [8, -1.53], [9.1, -1.59],
  [10.2, -1.65], [11.3, -1.74], [12.4, -1.84], [13.5, -1.95], [14.6, -2.08], [15.7, -2.20],
  [16.8, -2.31], [17.9, -2.41], [19, -2.52], [20, -2.65], [21, -2.78], [22, -2.92],
  [23, -3.06], [23.9, -3.19], [24.8, -3.31], [25.7, -3.46], [26.6, -3.62], [27.4, -3.80],
  [28.2, -3.97], [29, -4.12], [29.8, -4.27], [30.6, -4.42], [31.5, -4.55], [32, -4.50],
  [32.5, -4.70], [33.4, -4.93]]

// ---------------- Helpers ----------------
const fromBins = (bins, vals) => bins.map((x, i) => ({ x, y: vals[i] })).filter(d => d.y != null)
const fromPairs = pairs => pairs.map(([x, y]) => ({ x, y }))

const panels = [
  {
    id: 'a', left: 89, right: 496, top: 13, bottom: 336, xDomain: [-4.55, 4.35],
    xTicks: xTicksTau100, tau: '100', eps: '0', ylabX: 27, letterBase: 51,
    series: [aBlack, aRed, aGreen, aBlue, aOrange, aPink].map(v => ({ points: fromBins(binsTau100, v) })),
    legend: true, r: 2.5
  },
  {
    id: 'b', left: 595, right: 999, top: 13, bottom: 334, xDomain: [-59.7, 52.5],
    xTicks: xTicksTau1000, tau: '1000', eps: '0', ylabX: 533, letterBase: 51,
    series: [bBlack, bRed, bGreen, bBlue, bOrange, bPink].map(v => ({ points: fromBins(binsTau1000, v) })),
    r: 3.1
  },
  {
    id: 'c', left: 1096, right: 1500, top: 17, bottom: 338, xDomain: [-4.34, 4.36],
    xTicks: xTicksTau100, tau: '100', eps: '10', ylabX: 1033, letterBase: 56,
    series: [cBlack, cRed, cGreen, cBlue, cOrange, cPink].map(v => ({ points: fromBins(binsTau100, v) })),
    r: 2.5
  },
  {
    id: 'd', left: 1589, right: 1997, top: 15, bottom: 334, xDomain: [-57.8, 52.4],
    xTicks: xTicksTau1000, tau: '1000', eps: '10', ylabX: 1537, letterBase: 52,
    series: [
      { points: fromPairs(dBlack).concat(fromPairs(dBlackPeak)), line: fromPairs(dBlack) },
      { points: fromPairs(dRed), line: fromPairs(dRed) },
      { points: fromPairs(dGreen), line: fromPairs(dGreen) },
      { points: fromPairs(dBlue), line: fromPairs(dBlue) },
      { points: fromPairs(dOrange), line: fromPairs(dOrange) },
      { points: fromPairs(dPink), line: fromPairs(dPink) }
    ],
    r: 3.5
  }
]

// ---------------- Draw ----------------
const svg = d3.select('#chart')
  .append('svg')
  .attr('width', 2003)
  .attr('height', 395)

svg.append('rect').attr('width', 2003).attr('height', 395).attr('fill', '#fff')

const supMinus = e => (e === 0 ? '0' : '\u2212' + Math.abs(e))

function drawPanel(p) {
  const xScale = d3.scaleLinear().domain(p.xDomain).range([p.left, p.right])
  const yScale = d3.scaleLog().domain([1e-5, 1]).range([p.bottom, p.top])

  const g = svg.append('g')
  const clipId = 'clip-' + p.id
  g.append('clipPath').attr('id', clipId)
    .append('rect')
    .attr('x', p.left).attr('y', p.top)
    .attr('width', p.right - p.left).attr('height', p.bottom - p.top)

  const plot = g.append('g').attr('clip-path', `url(#${clipId})`)

  const line = d3.line()
    .x(d => xScale(d.x))
    .y(d => yScale(Math.pow(10, d.y)))

  p.series.forEach((s, i) => {
    if (s.line) {
      plot.append('path')
        .datum(s.line)
        .attr('d', line)
        .attr('fill', 'none')
        .attr('stroke', seriesColors[i])
        .attr('stroke-width', 1)
        .attr('stroke-dasharray', '3.5,2')
    }
    plot.append('g')
      .selectAll('circle')
      .data(s.points)
      .join('circle')
      .attr('cx', d => xScale(d.x))
      .attr('cy', d => yScale(Math.pow(10, d.y)))
      .attr('r', p.r)
      .attr('fill', 'none')
      .attr('stroke', seriesColors[i])
      .attr('stroke-width', 1.05)
  })

  // y axis: major + minor ticks
  const minor = []
  for (let e = -5; e < 0; e++) for (let k = 2; k < 10; k++) minor.push(k * Math.pow(10, e))

  const yAxisG = g.append('g').attr('transform', `translate(${p.left},0)`)
  yAxisG.call(d3.axisLeft(yScale).tickValues(yTicks).tickSize(7).tickFormat(''))
  yAxisG.append('g').call(d3.axisLeft(yScale).tickValues(minor).tickSize(3.5).tickFormat(''))
  yAxisG.selectAll('.domain').remove()
  yAxisG.selectAll('line').attr('stroke', '#111').attr('stroke-width', 1.1)

  g.selectAll('.ylab')
    .data(yTicks)
    .join('text')
    .attr('class', 'ylab')
    .attr('x', p.left - 9)
    .attr('y', d => yScale(d) + 6)
    .attr('text-anchor', 'end')
    .style('font-size', '17px')
    .each(function (d) {
      const t = d3.select(this)
      t.append('tspan').text('10')
      t.append('tspan').attr('dy', -7).style('font-size', '12px').text(supMinus(Math.round(Math.log10(d))))
    })

  // x axis
  const xAxisG = g.append('g').attr('transform', `translate(0,${p.bottom})`)
  xAxisG.call(d3.axisBottom(xScale).tickValues(p.xTicks).tickSize(7).tickPadding(7))
  xAxisG.selectAll('.domain').remove()
  xAxisG.selectAll('line').attr('stroke', '#111').attr('stroke-width', 1.1)
  xAxisG.selectAll('text')
    .style('font-size', '17px')
    .style('font-family', '"DejaVu Sans", sans-serif')
    .attr('fill', '#111')

  // frame
  g.append('rect')
    .attr('x', p.left).attr('y', p.top)
    .attr('width', p.right - p.left).attr('height', p.bottom - p.top)
    .attr('fill', 'none')
    .attr('stroke', '#111')
    .attr('stroke-width', 1.6)

  // x label
  g.append('text')
    .attr('x', (p.left + p.right) / 2)
    .attr('y', 389)
    .attr('text-anchor', 'middle')
    .style('font-size', '26px')
    .style('font-weight', 'bold')
    .text('Δx')

  // y label
  const yl = g.append('text')
    .attr('transform', `translate(${p.ylabX},${(p.top + p.bottom) / 2}) rotate(-90)`)
    .attr('text-anchor', 'middle')
    .style('font-size', '26px')
  yl.append('tspan').style('font-weight', 'bold').text('P(Δx,')
  yl.append('tspan').style('font-style', 'italic').text('τ')
  yl.append('tspan').text(' = ' + p.tau)
  yl.append('tspan').style('font-weight', 'bold').text(')')

  // condition annotation
  const ann = g.append('text')
    .attr('x', p.left + 4)
    .attr('y', p.top + 18)
    .style('font-size', '14px')
  ann.append('tspan').style('font-style', 'italic').text('Pe')
  ann.append('tspan').text(' = 0, ')
  ann.append('tspan').style('font-style', 'italic').text('ε')
  ann.append('tspan').style('font-style', 'italic').style('font-size', '10px').attr('dy', 3).text('a')
  if (p.eps === '0') {
    ann.append('tspan').attr('dy', -3).text(' = 0')
  } else {
    ann.append('tspan').attr('dy', -3).text(' = 10')
    ann.append('tspan').style('font-style', 'italic').text('K')
    ann.append('tspan').style('font-style', 'italic').style('font-size', '10px').attr('dy', 3).text('B')
    ann.append('tspan').style('font-style', 'italic').attr('dy', -3).text('T')
  }

  // panel letter
  g.append('text')
    .attr('x', p.right - 10)
    .attr('y', p.letterBase)
    .attr('text-anchor', 'end')
    .style('font-family', '"Liberation Serif", "Times New Roman", serif')
    .style('font-size', '32px')
    .text(`(${p.id})`)

  // legend
  if (p.legend) {
    const lg = g.append('g')
    lg.append('rect')
      .attr('x', 235).attr('y', 105).attr('width', 114).attr('height', 139)
      .attr('rx', 4)
      .attr('fill', '#fff').attr('fill-opacity', 0.85)
      .attr('stroke', '#d6d6d6')
    const rowY = d3.scaleLinear().domain([0, phiLabels.length - 1]).range([117, 231])
    phiLabels.forEach((lab, i) => {
      lg.append('circle')
        .attr('cx', 256).attr('cy', rowY(i)).attr('r', 2.6)
        .attr('fill', 'none').attr('stroke', seriesColors[i]).attr('stroke-width', 1.1)
      const t = lg.append('text').attr('x', 283).attr('y', rowY(i) + 5.5).style('font-size', '15px')
      t.append('tspan').style('font-style', 'italic').text('ϕ')
      t.append('tspan').text(' = ' + lab)
    })
  }
}

panels.forEach(drawPanel)
</script>
</body>
</html>
